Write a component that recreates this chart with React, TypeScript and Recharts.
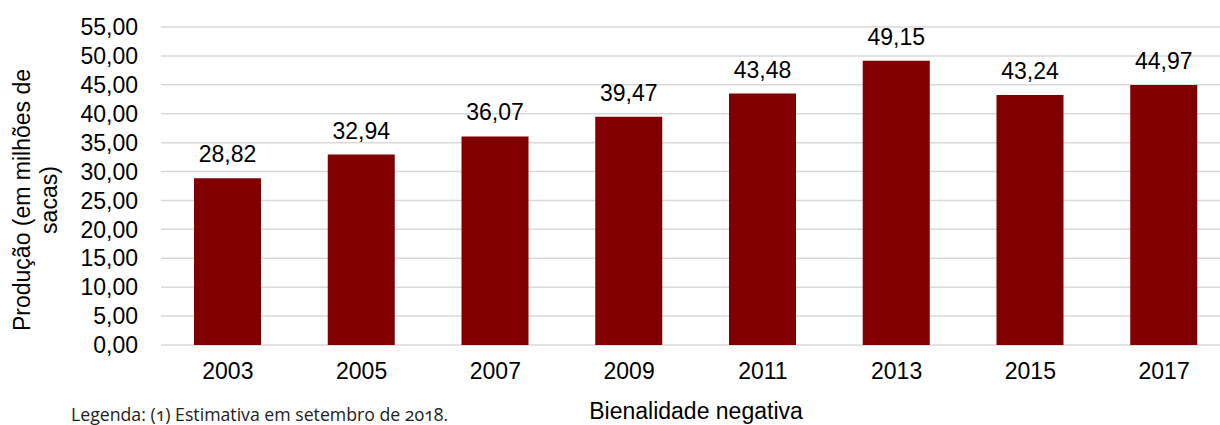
import { BarChart, Bar, XAxis, YAxis, CartesianGrid, LabelList } from "recharts";

const years = ["2003", "2005", "2007", "2009", "2011", "2013", "2015", "2017"];
const production = [28.82, 32.94, 36.07, 39.47, 43.48, 49.15, 43.24, 44.97];
const yTicks = [0, 5, 10, 15, 20, 25, 30, 35, 40, 45, 50, 55];

const yTitle = ["Produção (em milhões de", "sacas)"];
const xTitle = "Bienalidade negativa";
const footnote = "Legenda: (1) Estimativa em setembro de 2018.";

const data = years.map((year, i) => ({ year, value: production[i] }));

const FONT = '"Liberation Sans", Arial, sans-serif';
const FS = 23;
const fmt = (v: number) => v.toFixed(2).replace(".", ",");

const YTitle = () => (
  <text
    transform="translate(30,200) rotate(-90)"
    textAnchor="middle"
    fontSize={FS}
    fontFamily={FONT}
    fill="#000"
  >
    <tspan x={0} dy={0}>{yTitle[0]}</tspan>
    <tspan x={0} dy={27}>{yTitle[1]}</tspan>
  </text>
);

const XTitle = (props: any) => {
  const vb = props.viewBox || { x: 0, y: 0, width: 0, height: 0 };
  return (
    <text
      x={vb.x + vb.width / 2}
      y={vb.y + vb.height - 6}
      textAnchor="middle"
      fontSize={FS}
      fontFamily={FONT}
      fill="#000"
    >
      {xTitle}
    </text>
  );
};

export default function App() {
  return (
    <div
      style={{
        position: "fixed",
        left: 0,
        top: 0,
        width: 1220,
        height: 425,
        overflow: "hidden",
        background: "#fff",
      }}
    >
      <BarChart
        width={1240}
        height={425}
        data={data}
        margin={{ top: 27, right: 9, left: 0, bottom: 0 }}
        barCategoryGap={0}
      >
        <CartesianGrid vertical={false} stroke="#d9d9d9" strokeWidth={1.5} />
        <XAxis
          dataKey="year"
          height={80}
          axisLine={false}
          tickLine={false}
          tickSize={0}
          tickMargin={18}
          interval={0}
          tick={{ fontSize: FS, fontFamily: FONT, fill: "#000" }}
          label={{ content: XTitle }}
        />
        <YAxis
          width={161}
          domain={[0, 55]}
          ticks={yTicks}
          interval={0}
          axisLine={false}
          tickLine={false}
          tickSize={0}
          tickMargin={23}
          tickFormatter={fmt}
          tick={{ fontSize: FS, fontFamily: FONT, fill: "#000" }}
          label={{ content: YTitle }}
        />
        <Bar dataKey="value" fill="#800000" barSize={67} isAnimationActive={false}>
          <LabelList
            dataKey="value"
            position="top"
            offset={16}
            formatter={(v: any) => fmt(Number(v))}
            style={{ fontSize: FS, fontFamily: FONT, fill: "#000" }}
          />
        </Bar>
      </BarChart>
      <div
        style={{
          position: "absolute",
          left: 71,
          top: 404,
          fontFamily: "'Open Sans', Lato, sans-serif",
          fontSize: 17.7,
          lineHeight: "20px",
          color: "#222",
          fontVariantNumeric: "oldstyle-nums",
          whiteSpace: "nowrap",
        }}
      >
        {footnote}
      </div>
    </div>
  );
}
